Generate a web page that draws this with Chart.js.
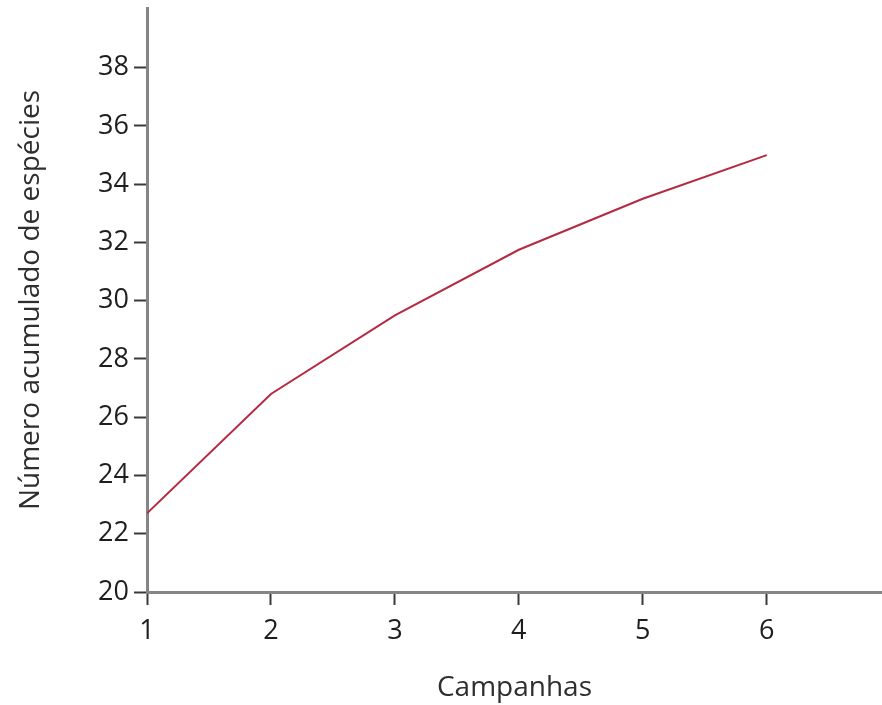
<!DOCTYPE html>
<html>
<head>
<meta charset="utf-8">
<script src="https://cdn.jsdelivr.net/npm/chart.js@4"></script>
<style>
  html, body { margin: 0; padding: 0; background: #ffffff; }
  #wrap { width: 882px; height: 705px; position: relative; }
</style>
</head>
<body>
<div id="wrap"><canvas id="c"></canvas></div>
<script>
// Species accumulation curve per sampling campaign
const campanhas = [1, 2, 3, 4, 5, 6];
const especiesAcumuladas = [22.7, 26.8, 29.5, 31.75, 33.5, 35.0];
const xTickValues = [1, 2, 3, 4, 5, 6];
const yTickValues = [20, 22, 24, 26, 28, 30, 32, 34, 36, 38];

const FONT = '"Open Sans", "Noto Sans", sans-serif';
const AXIS_GRAY = '#858585';
const TICK_DARK = '#3a3a3a';

const points = campanhas.map((c, i) => ({ x: c, y: especiesAcumuladas[i] }));

new Chart(document.getElementById('c'), {
  type: 'line',
  data: {
    datasets: [{
      data: points,
      borderColor: '#b52a42',
      borderWidth: 2,
      pointRadius: 0,
      tension: 0,
      fill: false
    }]
  },
  options: {
    responsive: true,
    maintainAspectRatio: false,
    animation: false,
    layout: { padding: { top: 8, right: 0, bottom: 0, left: 0 } },
    plugins: { legend: { display: false }, tooltip: { enabled: false } },
    scales: {
      x: {
        type: 'linear',
        min: 1,
        max: 6.93,
        afterBuildTicks: s => { s.ticks = xTickValues.map(v => ({ value: v })); },
        afterFit: s => { s.height = 113; s.paddingLeft = 0; s.paddingRight = 0; },
        border: { color: AXIS_GRAY, width: 3 },
        grid: { drawOnChartArea: false, tickLength: 13, tickColor: TICK_DARK, tickWidth: 2 },
        ticks: {
          autoSkip: false, maxRotation: 0, padding: 10,
          color: '#1e1e1e',
          font: { family: FONT, size: 27 }
        },
        title: {
          display: true, text: 'Campanhas', color: '#2e2e2e',
          font: { family: FONT, size: 28 },
          padding: { top: 0, bottom: 0 }
        }
      },
      y: {
        type: 'linear',
        min: 20,
        max: 40.05,
        afterBuildTicks: s => { s.ticks = yTickValues.map(v => ({ value: v })); },
        afterFit: s => { s.width = 147; s.paddingTop = 0; s.paddingBottom = 0; },
        border: { color: AXIS_GRAY, width: 3 },
        grid: { drawOnChartArea: false, tickLength: 13, tickColor: TICK_DARK, tickWidth: 2 },
        ticks: {
          autoSkip: false, padding: 5,
          color: '#1e1e1e',
          font: { family: FONT, size: 27 }
        },
        title: {
          display: true, text: 'Número acumulado de espécies', color: '#2e2e2e',
          font: { family: FONT, size: 28 },
          padding: { top: 14, bottom: 0 }
        }
      }
    }
  }
});
</script>
</body>
</html>
